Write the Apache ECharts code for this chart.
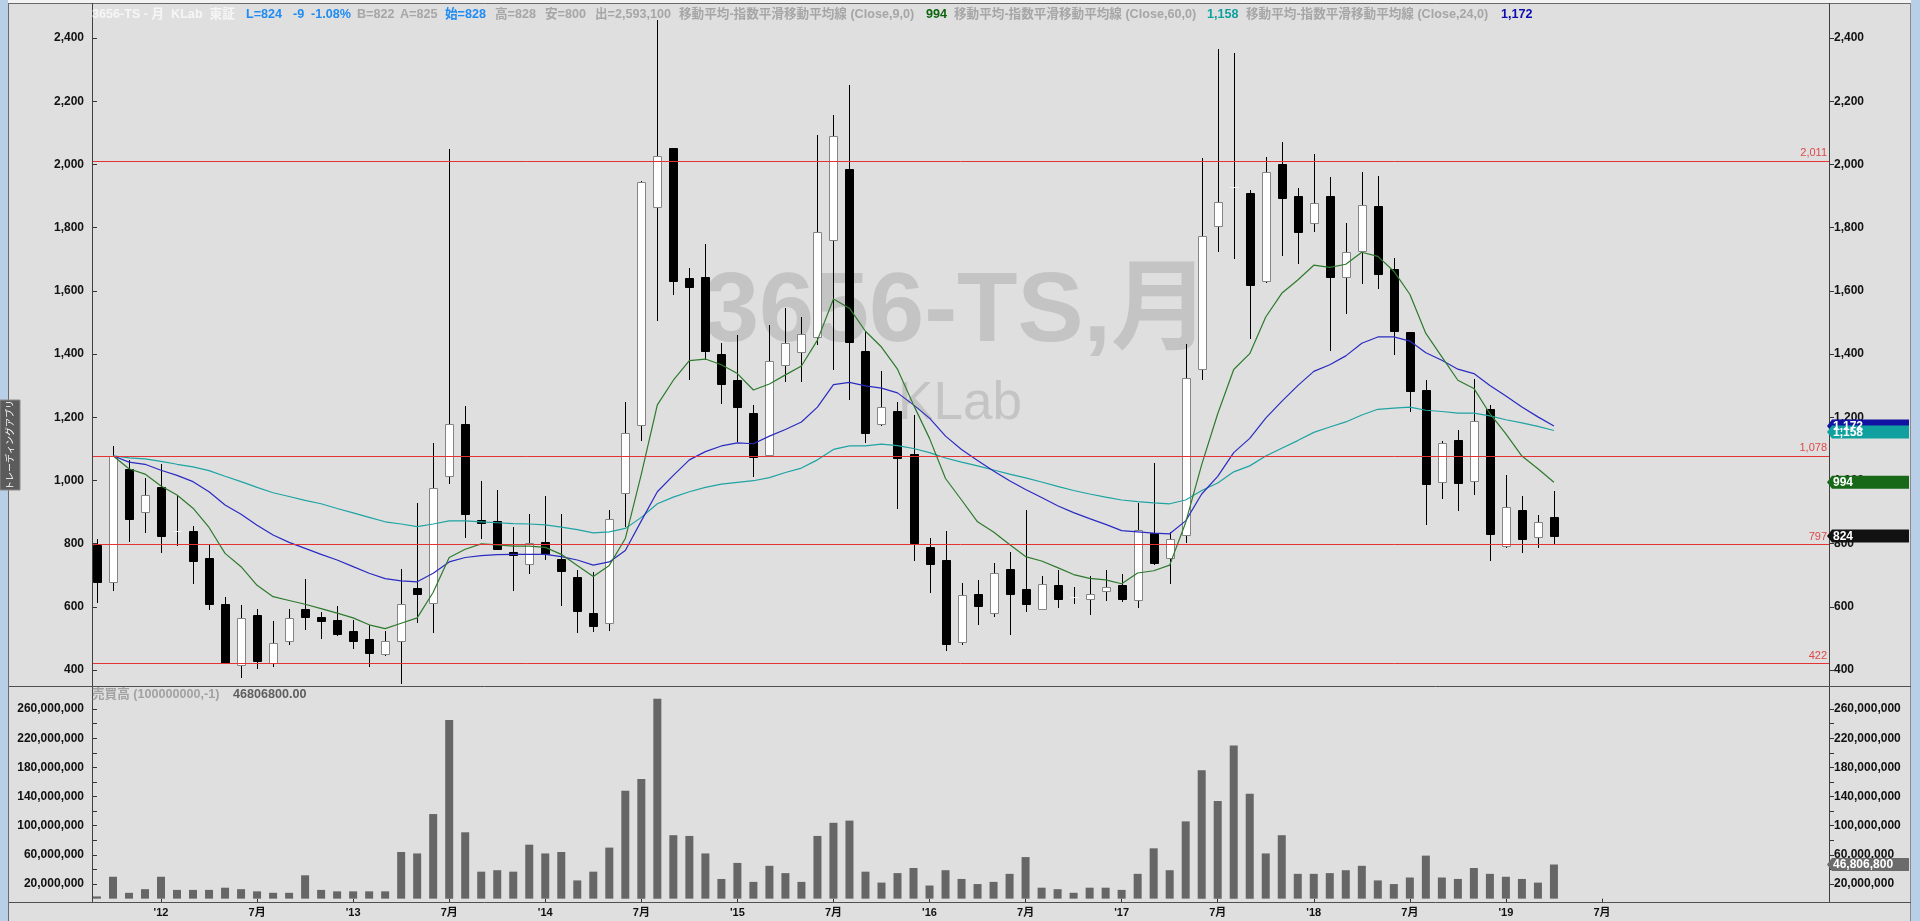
<!DOCTYPE html>
<html><head><meta charset="utf-8">
<script src="https://cdn.jsdelivr.net/npm/echarts@6/dist/echarts.min.js"></script>
<style>html,body{margin:0;padding:0;background:#dfdfdf;overflow:hidden}#c{width:1920px;height:921px}</style>
</head><body><div id="c"></div>
<script>
// ---- data (monthly, Sep 2011 .. Apr 2019) ----
const months = ['2011-09','2011-10','2011-11','2011-12',
'2012-01','2012-02','2012-03','2012-04','2012-05','2012-06','2012-07','2012-08','2012-09','2012-10','2012-11','2012-12',
'2013-01','2013-02','2013-03','2013-04','2013-05','2013-06','2013-07','2013-08','2013-09','2013-10','2013-11','2013-12',
'2014-01','2014-02','2014-03','2014-04','2014-05','2014-06','2014-07','2014-08','2014-09','2014-10','2014-11','2014-12',
'2015-01','2015-02','2015-03','2015-04','2015-05','2015-06','2015-07','2015-08','2015-09','2015-10','2015-11','2015-12',
'2016-01','2016-02','2016-03','2016-04','2016-05','2016-06','2016-07','2016-08','2016-09','2016-10','2016-11','2016-12',
'2017-01','2017-02','2017-03','2017-04','2017-05','2017-06','2017-07','2017-08','2017-09','2017-10','2017-11','2017-12',
'2018-01','2018-02','2018-03','2018-04','2018-05','2018-06','2018-07','2018-08','2018-09','2018-10','2018-11','2018-12',
'2019-01','2019-02','2019-03','2019-04'];
const opens = [797,677,1037,899,979,841,840,755,608,416,574,422,492,594,569,559,522,498,452,492,658,612,1013,1178,875,872,775,735,806,751,693,581,550,960,1176,1864,2053,1641,1644,1400,1319,1212,1080,1365,1406,1454,1760,1984,1408,1178,1221,1084,788,747,488,641,580,720,656,593,670,632,624,649,668,621,833,755,826,1351,1806,1928,1909,1630,2001,1900,1816,1900,1643,1725,1867,1670,1470,1287,995,1129,998,1226,793,907,821,885];
const highs = [813,1109,1065,1009,1051,953,857,799,631,605,594,556,594,689,584,604,557,543,522,721,930,1119,2048,1236,999,971,854,893,950,893,717,711,905,1249,1949,2457,2053,1672,1748,1434,1461,1240,1492,1544,1517,2093,2156,2251,1472,1345,1249,1207,818,841,676,686,738,773,905,699,718,663,699,717,703,930,1056,837,1432,2019,2364,2353,1919,2024,2070,1925,2032,1960,1815,1976,1963,1703,1470,1318,1125,1160,1321,1239,1017,951,892,967];
const lows = [611,649,804,833,769,792,672,590,418,374,404,411,480,526,498,507,467,409,445,357,548,517,989,817,816,780,651,703,748,604,517,519,524,851,1126,1506,1588,1317,1380,1243,1122,1010,1075,1310,1310,1430,1348,1256,1119,1173,910,745,644,460,478,541,569,512,583,590,597,608,573,617,615,597,731,672,802,1317,1723,1702,1446,1624,1709,1684,1787,1408,1528,1620,1606,1397,1215,858,940,902,953,744,785,769,785,796];
const closes = [677,1078,879,954,823,841,744,608,423,565,428,485,565,567,555,514,491,453,491,608,639,975,1178,893,865,783,765,802,766,713,586,539,878,1150,1945,2028,1630,1612,1411,1305,1231,1074,1377,1434,1462,1785,2089,1437,1150,1232,1071,802,735,481,638,603,707,639,608,672,624,632,642,663,624,843,738,813,1324,1775,1881,1928,1617,1976,1895,1787,1877,1645,1722,1870,1654,1472,1284,988,1119,993,1188,830,916,814,869,824];
const volumes = [3000000,30000000,8000000,13000000,30000000,12000000,12000000,12000000,15000000,13000000,10000000,8000000,8000000,32000000,12000000,10000000,10000000,10000000,10000000,64000000,62000000,116000000,245000000,91000000,37000000,39000000,37000000,74000000,62000000,64000000,25000000,37000000,70000000,148000000,164000000,274000000,87000000,86000000,62000000,27000000,49000000,23000000,45000000,35000000,23000000,86000000,104000000,107000000,37000000,22000000,35000000,42000000,18000000,39000000,27000000,20000000,23000000,34000000,57000000,15000000,13000000,8000000,15000000,15000000,12000000,34000000,69000000,39000000,106000000,176000000,134000000,210000000,144000000,62000000,87000000,34000000,34000000,35000000,39000000,45000000,25000000,20000000,29000000,59000000,29000000,27000000,42000000,34000000,30000000,27000000,22000000,46806800];
const ema9 = [null,1078,1037,1020,982,954,912,851,769,727,668,632,620,608,594,580,565,543,531,548,565,646,756,782,799,796,792,792,788,766,731,696,731,816,1020,1239,1317,1379,1384,1366,1338,1286,1305,1334,1362,1444,1574,1545,1472,1422,1352,1239,1133,1006,938,869,837,797,759,745,724,702,690,685,673,707,714,732,867,1050,1211,1351,1401,1517,1592,1634,1681,1674,1684,1722,1709,1662,1589,1465,1391,1317,1291,1211,1147,1077,1037,994];
const ema24 = [null,1078,1058,1051,1032,1016,996,964,922,893,858,827,804,785,766,748,727,706,689,682,679,706,742,756,762,765,766,766,766,759,748,732,742,778,872,964,1016,1065,1091,1109,1119,1116,1140,1161,1185,1232,1303,1310,1299,1292,1277,1239,1197,1140,1098,1063,1030,999,971,946,920,898,879,861,841,837,833,831,872,957,1013,1088,1133,1197,1250,1300,1345,1366,1394,1434,1454,1454,1441,1404,1380,1352,1338,1300,1267,1232,1201,1172];
const ema60 = [null,1078,1071,1068,1060,1051,1043,1031,1013,996,978,961,949,937,926,911,897,883,869,862,854,862,872,872,869,866,863,862,859,852,844,834,837,848,883,926,947,964,978,988,994,999,1009,1025,1039,1065,1098,1109,1109,1115,1110,1101,1088,1071,1058,1046,1033,1020,1008,995,981,968,957,947,938,933,929,926,938,968,992,1027,1046,1077,1102,1126,1152,1169,1185,1207,1225,1229,1232,1222,1218,1213,1213,1204,1192,1182,1171,1158];
const levels = [2011,1078,797,422];
const xTickIdx = [4,10,16,22,28,34,40,46,52,58,64,70,76,82,88,94];
const xTickLabels = ["'12","7月","'13","7月","'14","7月","'15","7月","'16","7月","'17","7月","'18","7月","'19","7月"];
const volLabelTicks = [20000000,60000000,100000000,140000000,180000000,220000000,260000000];
const volTicks = [20000000,40000000,60000000,80000000,100000000,120000000,140000000,160000000,180000000,200000000,220000000,240000000,260000000];

// ---- chart ----
const chart = echarts.init(document.getElementById('c'), null, {renderer:'canvas'});
const fmt = v => Number(v).toLocaleString('en-US');
const AX_FONT = {color:'#111', fontWeight:'bold', fontSize:12, fontFamily:'Liberation Sans, Arial, sans-serif'};
const XMIN = -0.31, XMAX = 108.18;

const candleData = months.map((m,i)=>[i, opens[i], highs[i], lows[i], closes[i]]);
const volData = months.map((m,i)=>[i, volumes[i]]);
const lineData = arr => arr.map((v,i)=>[i, v]);

function renderCandle(params, api){
  const i = api.value(0), o = api.value(1), h = api.value(2), l = api.value(3), c = api.value(4);
  const ph = api.coord([i,h]), pl = api.coord([i,l]), po = api.coord([i,o]), pc = api.coord([i,c]);
  const cx = Math.round(ph[0]);
  const up = c >= o;
  const top = Math.round(Math.min(po[1], pc[1])), bot = Math.round(Math.max(po[1], pc[1]));
  const children = [
    {type:'line', shape:{x1:cx+0.5, y1:Math.round(ph[1]), x2:cx+0.5, y2:Math.round(pl[1])}, style:{stroke:'#000', lineWidth:1}}
  ];
  if (o === c) {
    children.push({type:'line', shape:{x1:cx-4, y1:top+0.5, x2:cx+5, y2:top+0.5}, style:{stroke:'#f4f4f4', lineWidth:1}});
  } else {
    children.push({type:'rect', shape:{x:cx-4+0.5, y:top+0.5, width:8, height:Math.max(bot-top,1)},
      style:{fill: up ? '#ffffff' : '#000000', stroke: up ? '#858585' : '#000000', lineWidth:1}});
  }
  return {type:'group', children};
}

const yPrice = (pos, margin) => ({
  type:'value', gridIndex:0, position:pos, min:400, max:2400, interval:200,
  axisLine:{show:false}, splitLine:{show:false},
  axisTick:{show:true, length:5, lineStyle:{color:'#333'}},
  axisLabel:Object.assign({formatter:fmt, margin:margin}, AX_FONT)
});
const yVol = (pos, margin) => ({
  type:'value', gridIndex:1, position:pos, min:-4600000, max:291600000,
  axisLine:{show:false}, splitLine:{show:false},
  axisTick:{show:true, length:5, customValues:volTicks, lineStyle:{color:'#333'}},
  axisLabel:Object.assign({formatter:fmt, margin:margin, customValues:volLabelTicks}, AX_FONT)
});

const option = {
  backgroundColor:'#dfdfdf',
  animation:false,
  grid:[
    {left:92, right:91, top:38, height:632},
    {left:92, right:91, top:686, height:216}
  ],
  xAxis:[
    {type:'value', gridIndex:0, min:XMIN, max:XMAX, show:false},
    {type:'value', gridIndex:1, min:XMIN, max:XMAX,
      axisLine:{show:false}, splitLine:{show:false},
      axisTick:{show:true, length:4, customValues:xTickIdx, lineStyle:{color:'#333'}},
      axisLabel:{customValues:xTickIdx, margin:5, color:'#111', fontWeight:'bold', fontSize:11,
        fontFamily:'Liberation Sans, Noto Sans CJK JP, sans-serif',
        formatter:v => { const k = xTickIdx.indexOf(Math.round(v)); return k >= 0 ? xTickLabels[k] : ''; }}
    }
  ],
  yAxis:[yPrice('left',8), yPrice('right',5), yVol('left',8), yVol('right',5)],
  series:[
    {type:'custom', name:'price', xAxisIndex:0, yAxisIndex:0, data:candleData, renderItem:renderCandle,
      encode:{x:0, y:[1,2,3,4]}, clip:false, z:3},
    {type:'line', name:'EMA60', xAxisIndex:0, yAxisIndex:0, data:lineData(ema60), showSymbol:false, symbol:'none',
      lineStyle:{color:'#1fa3a3', width:1.2}, z:4, silent:true,
      markLine:{silent:true, symbol:'none', animation:false,
        lineStyle:{color:'#e23434', width:1, type:'solid'},
        label:{show:true, position:'insideEndTop', formatter:p => fmt(p.value), color:'#e04848', fontSize:11,
          fontFamily:'Liberation Sans, Arial, sans-serif', distance:[2,2]},
        data: levels.map(v => ({yAxis:v}))}},
    {type:'line', name:'EMA24', xAxisIndex:0, yAxisIndex:0, data:lineData(ema24), showSymbol:false, symbol:'none',
      lineStyle:{color:'#2b2bc2', width:1.2}, z:4, silent:true},
    {type:'line', name:'EMA9', xAxisIndex:0, yAxisIndex:0, data:lineData(ema9), showSymbol:false, symbol:'none',
      lineStyle:{color:'#2d7a2d', width:1.2}, z:4, silent:true},
    {type:'bar', name:'volume', xAxisIndex:1, yAxisIndex:2, data:volData, barWidth:8,
      itemStyle:{color:'#666666'}, silent:true}
  ]
};
chart.setOption(option);

// ---- overlays ----
const W = 1920;
const g = [];
const rect = (x,y,w,h,fill,z,stroke) => ({type:'rect', z:z||50, silent:true, shape:{x,y,width:w,height:h}, style:{fill, stroke:stroke||null}});
const hline = (x1,x2,y,c,z) => ({type:'line', z:z||60, silent:true, shape:{x1,y1:y,x2,y2:y}, style:{stroke:c, lineWidth:1}});
const vline = (x,y1,y2,c,z) => ({type:'line', z:z||60, silent:true, shape:{x1:x,y1,x2:x,y2}, style:{stroke:c, lineWidth:1}});
const txt = (x,y,t,fill,font,extra) => Object.assign({type:'text', z:70, silent:true, x, y,
  style:{text:t, fill, font, verticalAlign:'middle', align:'left'}}, extra||{});

// watermark (behind series)
g.push({type:'text', z:-10, zlevel:0, silent:true, x:957, y:314,
  style:{text:'3656-TS,月', fill:'#c4c4c4', font:'bold 99px "Liberation Sans", "Noto Sans CJK JP", sans-serif', align:'center', verticalAlign:'middle'}});
g.push({type:'text', z:-10, silent:true, x:960, y:404,
  style:{text:'KLab', fill:'#c4c4c4', font:'53px "Liberation Sans", sans-serif', align:'center', verticalAlign:'middle'}});

// window chrome
g.push(rect(0,0,W,3,'#f3f3f3',40));
g.push(rect(0,0,8,921,'#b9cfe8',40));
g.push(rect(1911,0,9,921,'#b9cfe8',40));
g.push(hline(9,1911,3.5,'#6a6a6a'));
g.push(vline(8.5,3,921,'#6a6a6a'));
g.push(vline(1910.5,3,921,'#8a8a8a'));
g.push(vline(92.5,3,903,'#404040'));
g.push(vline(1829.5,3,903,'#404040'));
g.push(hline(9,1911,686.5,'#505050'));
g.push(hline(9,1911,902.5,'#505050'));

// side tab
g.push(rect(0,400,20,90,'#5b5b5b',65,'#8a8a8a'));
g.push({type:'text', z:70, silent:true, x:10, y:445, rotation:Math.PI/2,
  style:{text:'トレーディングアプリ', fill:'#ffffff', font:'9px "Noto Sans CJK JP", sans-serif', align:'center', verticalAlign:'middle'}});

// header
const HF = 'bold 12.6px "Liberation Sans", "Noto Sans CJK JP", sans-serif';
const HY = 15;
const GRAY = '#a6a6a6', BLUE = '#1f8cf5';
g.push(txt(92,HY,'3656-TS - 月  KLab  東証','#f6f6f6',HF));
g.push(txt(246,HY,'L=824','#1f8cf5',HF));
g.push(txt(293,HY,'-9',BLUE,HF));
g.push(txt(311,HY,'-1.08%',BLUE,HF));
g.push(txt(357,HY,'B=822',GRAY,HF));
g.push(txt(400,HY,'A=825',GRAY,HF));
g.push(txt(445,HY,'始=828',BLUE,HF));
g.push(txt(495,HY,'高=828',GRAY,HF));
g.push(txt(545,HY,'安=800',GRAY,HF));
g.push(txt(595,HY,'出=2,593,100',GRAY,HF));
g.push(txt(679,HY,'移動平均-指数平滑移動平均線 (Close,9,0)',GRAY,HF));
g.push(txt(926,HY,'994','#0d640d',HF));
g.push(txt(954,HY,'移動平均-指数平滑移動平均線 (Close,60,0)',GRAY,HF));
g.push(txt(1207,HY,'1,158','#10a0a0',HF));
g.push(txt(1246,HY,'移動平均-指数平滑移動平均線 (Close,24,0)',GRAY,HF));
g.push(txt(1501,HY,'1,172','#0c0cb0',HF));

// volume pane title
g.push(txt(92,695,'売買高 (100000000,-1)','#a2a2a2',HF));
g.push(txt(233,695,'46806800.00','#5e5e5e',HF));

// value tags on the right axis (positions from the library scales)
function tag(yPix, label, color){
  const h = 13, x0 = 1829, x1 = 1909;
  g.push({type:'polygon', z:80, silent:true, shape:{points:[[x0-2,yPix],[x0+3,yPix-h/2],[x1,yPix-h/2],[x1,yPix+h/2],[x0+3,yPix+h/2]]}, style:{fill:color}});
  g.push({type:'text', z:81, silent:true, x:x0+4, y:yPix+0.5, style:{text:label, fill:'#ffffff', font:'bold 12px "Liberation Sans", sans-serif', verticalAlign:'middle', align:'left'}});
}
const last = closes.length - 1;
tag(chart.convertToPixel({yAxisIndex:0}, ema24[last]), fmt(ema24[last]), '#1313a3');
tag(chart.convertToPixel({yAxisIndex:0}, ema60[last]) + 1.5, fmt(ema60[last]), '#11a0a0');
tag(chart.convertToPixel({yAxisIndex:0}, ema9[last]), fmt(ema9[last]), '#176917');
tag(chart.convertToPixel({yAxisIndex:0}, closes[last]), fmt(closes[last]), '#121212');
tag(chart.convertToPixel({yAxisIndex:2}, volumes[last]), fmt(volumes[last]), '#6b6b6b');

chart.setOption({graphic:{elements:g}});
</script>
</body></html>
